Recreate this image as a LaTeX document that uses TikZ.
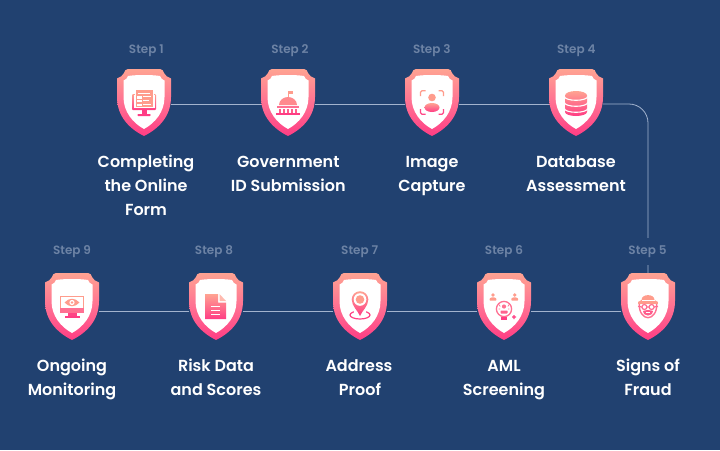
\documentclass[tikz,border=0pt]{standalone}
\usepackage{fontspec}
\setmainfont{Poppins}
\newfontfamily\labfont{Poppins}[UprightFont=* SemiBold]
\newfontfamily\stepfont{Poppins}[UprightFont=* SemiBold]
\definecolor{bg}{HTML}{214170}
\definecolor{stepgrey}{HTML}{6D83A5}
\definecolor{linec}{HTML}{A3B3CE}
\definecolor{gtop}{HTML}{FFA392}
\definecolor{gbot}{HTML}{FF3D84}
\definecolor{stop}{HTML}{FF9C8C}
\definecolor{smid}{HTML}{FF7092}
\tikzset{
  x=1pt,y=-1pt,
  anchorbox/.style={minimum width=54pt,minimum height=0pt,inner sep=0pt,outer sep=0pt,text height=0pt,text depth=0pt},
  steplabel/.style={font=\stepfont\fontsize{12}{14}\selectfont,text=stepgrey,inner sep=0pt},
  title/.style={font=\labfont\fontsize{16}{24}\selectfont,text=white,align=center,inner sep=0pt},
  conn/.style={draw=linec,line width=0.8pt},
  icon/.style={top color=gtop,bottom color=gbot,draw=none},
  wline/.style={draw=white,line width=1.1pt},
}
\newcommand{\tl}{\strut}
\newcommand{\shieldbase}{%
  \path[top color=gtop,bottom color=gbot,middle color=smid]
    (-16,0) -- (16,0) .. controls (19,0) and (19,2) .. (20,4)
    .. controls (21,7) and (24,8) .. (27,9.5)
    -- (27,28) .. controls (27,48) and (14,60) .. (0,67)
    .. controls (-14,60) and (-27,48) .. (-27,28) -- (-27,9.5)
    .. controls (-24,8) and (-21,7) .. (-20,4)
    .. controls (-19,2) and (-19,0) .. (-16,0) -- cycle;
  \path[fill=white]
    (0,6) .. controls (8,6) and (13,6.5) .. (16,7) .. controls (17,9.5) and (18,10.5) .. (20.5,11.5)
    -- (20.5,28) .. controls (20.5,43) and (11,54) .. (0,60)
    .. controls (-11,54) and (-20.5,43) .. (-20.5,28) -- (-20.5,11.5)
    .. controls (-18,10.5) and (-17,9.5) .. (-16,7) .. controls (-13,6.5) and (-8,6) .. (0,6) -- cycle;
}
\newcommand{\iconform}{%
  \path[icon,rounded corners=1pt] (-12,25) rectangle (12,41);
  \path[fill=white] (-10.5,26) rectangle (10.5,39);
  \path[fill=gbot] (-2.5,41) rectangle (2.5,45);
  \path[fill=gbot,rounded corners=0.6pt] (-6.5,45) rectangle (6.5,47);
  \path[fill=white] (-9.5,21) rectangle (9.5,38.5);
  \path[fill=stop] (-8.5,21) rectangle (8.5,38);
  \path[fill=white] (-6,23.5) rectangle (6,25);
  \path[fill=white] (-7,27) rectangle (-2.5,29.5);
  \path[fill=white] (-1.5,27) rectangle (7,28);
  \path[fill=white] (-7,31) rectangle (-2.5,33);
  \path[fill=white] (-1.5,31) rectangle (5,32);
  \path[fill=white] (-7,34.5) rectangle (-2.5,36.5);
  \path[fill=white] (-1.5,34.5) rectangle (7,35.5);
}
\newcommand{\iconbank}{%
  \path[fill=stop] (-0.5,22) rectangle (4.5,25);
  \path[fill=stop] (-0.5,22) rectangle (0.5,29);
  \path[fill=stop!60!smid] (-9,36) arc[start angle=180,end angle=360,x radius=9,y radius=8] -- cycle;
  \path[fill=smid] (-11,36.5) rectangle (11,38.5);
  \foreach \cx in {-8,-4,0,4,8}{\path[fill=smid!60!gbot] (\cx-1,39.5) rectangle (\cx+1,43.5);}
  \path[fill=gbot] (-12,44) rectangle (12,46);
}
\newcommand{\iconface}{%
  \foreach \sx in {-1,1}{
    \draw[stop,line width=1.2pt,rounded corners=1.5pt] (\sx*11.5,27) -- (\sx*11.5,21.7) -- (\sx*6.5,21.7);
    \draw[gbot!80!smid,line width=1.2pt,rounded corners=1.5pt] (\sx*11.5,40) -- (\sx*11.5,45.2) -- (\sx*6.5,45.2);
  }
  \path[fill=stop] (0,28.5) circle[radius=3.8];
  \path[icon] (0,38.5) ellipse[x radius=7.5,y radius=4.5];
}
\newcommand{\icondb}{%
  \path[icon] (-11,26.5) arc[start angle=180,end angle=360,x radius=11,y radius=4.5]
     -- (11,43) arc[start angle=0,end angle=180,x radius=11,y radius=4] -- cycle;
  \foreach \yy in {27.5,33.5,39.5}{
    \draw[wline] (-11.6,\yy) arc[start angle=180,end angle=0,x radius=11.6,y radius=3.8];
  }
}
\newcommand{\iconeye}{%
  \path[fill=stop] (-12,23) rectangle (12,36);
  \path[fill=white] (-11,24) rectangle (11,35);
  \path[fill=smid] (-12,35) rectangle (12,40);
  \path[fill=gbot!85!smid] (-4.5,40) rectangle (4.5,42.5);
  \path[fill=gbot] (-7.5,42.5) rectangle (7.5,45);
  \path[fill=stop] (-7.5,29.5) .. controls (-3,24.5) and (3,24.5) .. (7.5,29.5)
     .. controls (3,34.5) and (-3,34.5) .. (-7.5,29.5) -- cycle;
  \path[fill=white] (0,29.5) circle[radius=2.6];
  \path[fill=stop] (0,29.5) circle[radius=1.4];
}
\newcommand{\icondoc}{%
  \path[icon] (-11,21) -- (2,21) -- (2,29.5) -- (10,29.5) -- (10,46) -- (-11,46) -- cycle;
  \path[fill=stop!70!white] (3.5,21) -- (10,28) -- (3.5,28) -- cycle;
  \foreach \yy in {33.5,37.5,41.5}{\draw[wline] (-5,\yy) -- (4,\yy);}
}
\newcommand{\iconpin}{%
  \draw[gbot!90!smid,line width=1.2pt] (0,42) ellipse[x radius=10,y radius=4];
  \path[fill=white] (-6,34) rectangle (6,41);
  \path[icon] (0,43) .. controls (-2,38) and (-8.3,33) .. (-8.3,26.5)
     arc[start angle=180,end angle=360,radius=8.3]
     .. controls (8.3,33) and (2,38) .. (0,43) -- cycle;
  \path[fill=white] (0,26.5) circle[radius=6.3];
  \path[fill=stop] (0,26.5) circle[radius=4.3];
}
\newcommand{\iconperson}{%
  \path[fill=stop] (0,0) circle[radius=1.9];
  \path[fill=stop,rounded corners=0.6pt] (-3.4,5.5) -- (-3.4,3.4) -- (-1,2.3) -- (1,2.3) -- (3.4,3.4) -- (3.4,5.5) -- cycle;
}
\newcommand{\iconaml}{%
  \begin{scope}[shift={(-11,22)}]\iconperson\end{scope}
  \begin{scope}[shift={(10.7,22)}]\iconperson\end{scope}
  \draw[smid,line width=1.3pt] (0,36) circle[radius=7.6];
  \path[fill=smid] (0,33.5) circle[radius=2.1];
  \path[fill=smid!70!gbot,rounded corners=0.6pt] (-3.5,40.5) -- (-3.5,37.5) -- (3.5,37.5) -- (3.5,40.5) -- cycle;
  \draw[smid,line width=0.7pt] (-5,31.5) -- (-3.8,33.5) (5,31.5) -- (3.8,33.5) (-5.3,36) -- (-4,36) (5.3,36) -- (4,36);
  \path[fill=gbot] (-3,44) rectangle (3,46.5);
  \path[fill=gbot] (8,43.3) rectangle (12,44.7) (9.3,42) rectangle (10.7,46);
}
\newcommand{\iconfraud}{%
  \path[fill=stop] (-6.5,27) .. controls (-6.5,20.5) and (6.5,20.5) .. (6.5,27) -- (10,29) -- (-10,29) -- cycle;
  \path[fill=white] (-6.5,27.3) rectangle (6.5,28);
  \draw[smid,line width=1.4pt] (-8.6,30) .. controls (-9.5,40) and (-4,44.7) .. (0,44.7) .. controls (4,44.7) and (9.5,40) .. (8.6,30);
  \path[fill=stop] (-9.8,29) rectangle (9.8,31);
  \draw[smid,line width=1.2pt] (-3.6,34) circle[radius=2.5] (3.6,34) circle[radius=2.5];
  \draw[smid,line width=1.2pt] (-10,33.5) -- (-6,34) (-1.1,34) -- (1.1,34) (6,34) -- (10,33.5);
  \path[fill=smid!60!gbot] (-5,38) .. controls (-2,36.8) and (2,36.8) .. (5,38)
     .. controls (4.5,41.5) and (2,42.5) .. (0,42.5)
     .. controls (-2,42.5) and (-4.5,41.5) .. (-5,38) -- cycle;
  \path[fill=white] (-2.2,39.3) rectangle (2.2,40.2);
}
% x, top of shield, icon
\newcommand{\stepshield}[3]{%
  \begin{scope}[shift={(#1,#2)}]\shieldbase #3\end{scope}
}
\begin{document}
\begin{tikzpicture}
\useasboundingbox (0,0) rectangle (720,450);
\fill[bg] (0,0) rectangle (720,450);
\node[anchorbox] (a1) at (144,104) {};
\node[anchorbox] (a2) at (288,104) {};
\node[anchorbox] (a3) at (432,104) {};
\node[anchorbox] (a4) at (576,104) {};
\node[anchorbox] (a5) at (648,311.3) {};
\node[anchorbox] (a6) at (504,311.3) {};
\node[anchorbox] (a7) at (360,311.3) {};
\node[anchorbox] (a8) at (216,311.3) {};
\node[anchorbox] (a9) at (72,311.3) {};
\coordinate (bend) at (648,104);
\coordinate (s5top) at (648,275);
\draw[conn] (a1.east) -- (a2.west);
\draw[conn] (a2.east) -- (a3.west);
\draw[conn] (a3.east) -- (a4.west);
\draw[conn,rounded corners=19pt] (a4.east) -- (bend) -- (s5top);
\draw[conn] (a5.west) -- (a6.east);
\draw[conn] (a6.west) -- (a7.east);
\draw[conn] (a7.west) -- (a8.east);
\draw[conn] (a8.west) -- (a9.east);
\stepshield{144}{69}{\iconform}
\stepshield{288}{69}{\iconbank}
\stepshield{432}{69}{\iconface}
\stepshield{576}{69}{\icondb}
\stepshield{648}{273}{\iconfraud}
\stepshield{504}{273}{\iconaml}
\stepshield{360}{273}{\iconpin}
\stepshield{216}{273}{\icondoc}
\stepshield{72}{273}{\iconeye}
\node[steplabel] (l1) at (146.3,50.5) {\strut Step 1};
\node[steplabel] (l2) at (290,50.5) {\strut Step 2};
\node[steplabel] (l3) at (431.8,50.5) {\strut Step 3};
\node[steplabel] (l4) at (576.3,50.5) {\strut Step 4};
\node[steplabel,fill=bg,minimum height=27pt,minimum width=44pt] (l5) at (647.5,251.2) {\strut Step 5};
\node[steplabel] (l6) at (504,251.2) {\strut Step 6};
\node[steplabel] (l7) at (359.7,251.2) {\strut Step 7};
\node[steplabel] (l8) at (214,251.2) {\strut Step 8};
\node[steplabel] (l9) at (72,251.2) {\strut Step 9};
\node[title] (t1) at (146,186.7) {\tl Completing\\\tl the Online\\\tl Form};
\node[title] (t2) at (288.3,174.5) {\tl Government\\\tl ID Submission};
\node[title] (t3) at (432,174.5) {\tl Image\\\tl Capture};
\node[title] (t4) at (576,174.5) {\tl Database\\\tl Assessment};
\node[title] (t5) at (648,379) {\tl Signs of\\\tl Fraud};
\node[title] (t6) at (504,379) {\tl AML\\\tl Screening};
\node[title] (t7) at (359,379) {\tl Address\hspace{2pt}\\\tl\hspace{2pt}Proof};
\node[title] (t8) at (216,379) {\tl Risk Data\\\tl and Scores};
\node[title] (t9) at (72,379) {\tl Ongoing\\\tl Monitoring};
\end{tikzpicture}
\end{document}
